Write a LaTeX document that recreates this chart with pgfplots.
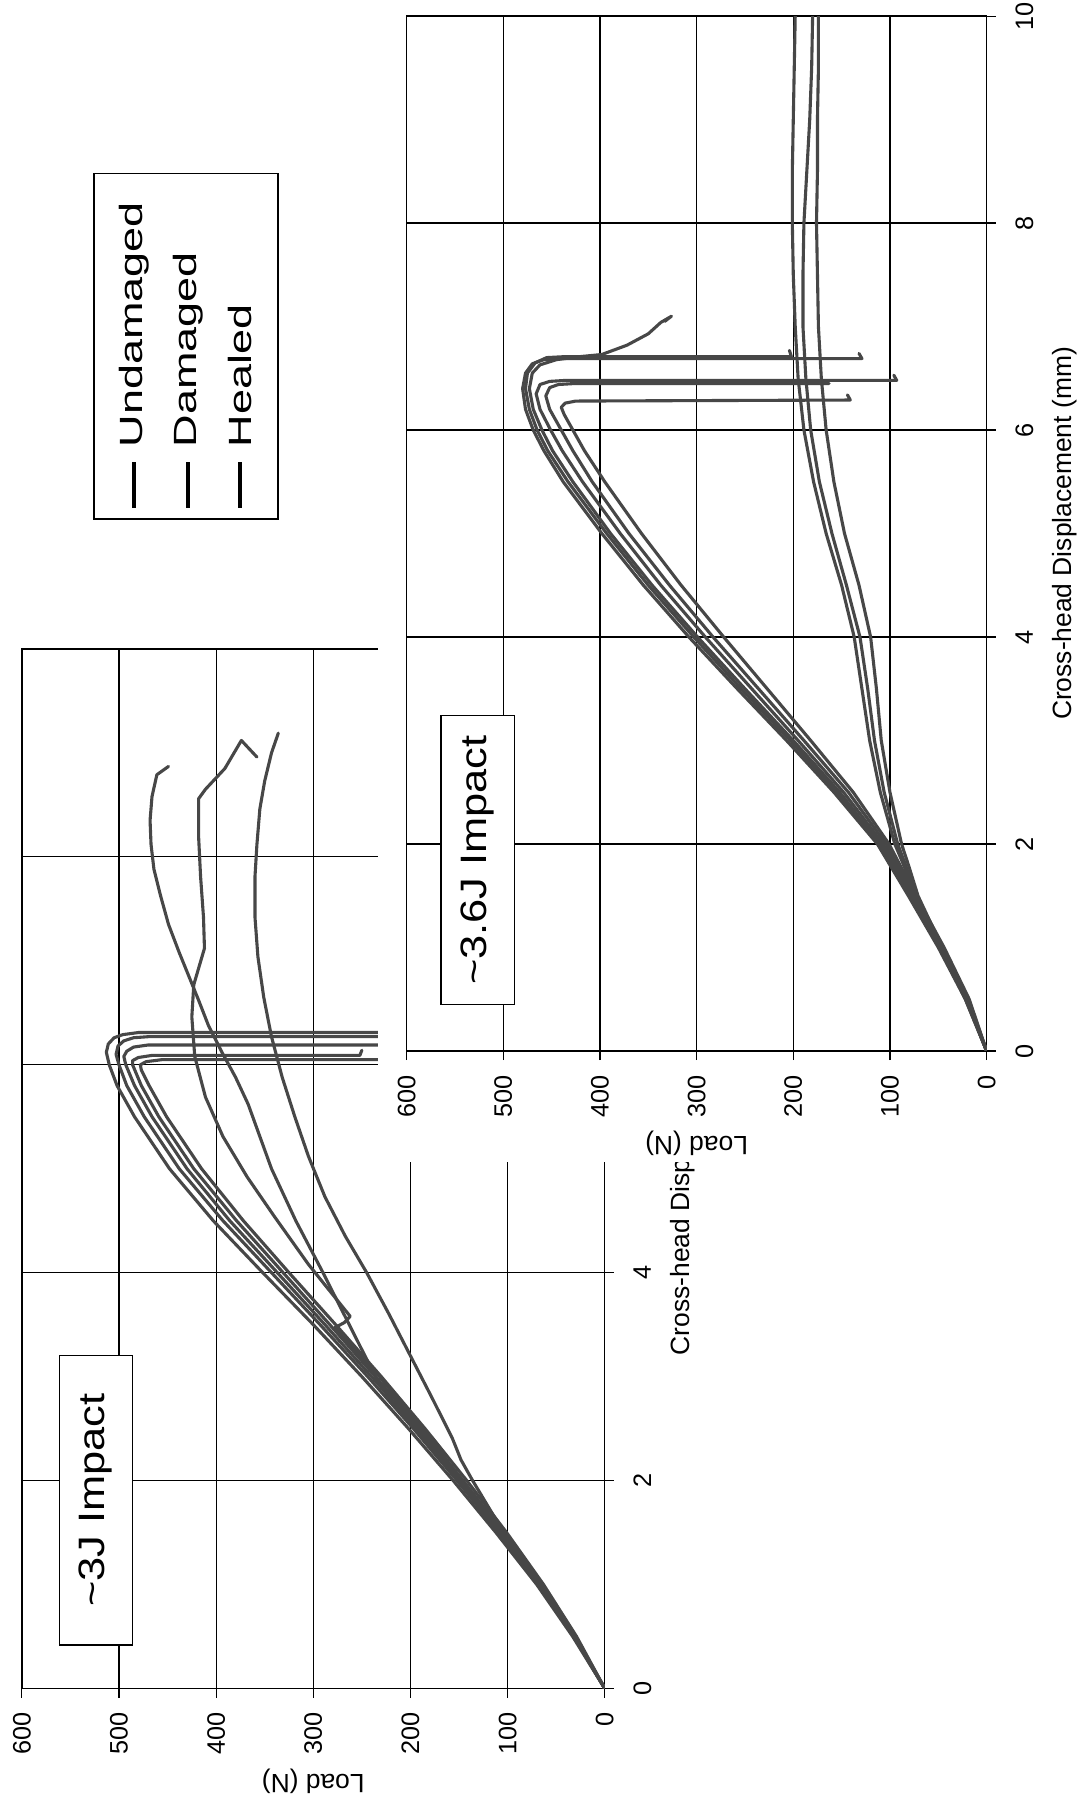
\documentclass[border=0pt]{standalone}
\usepackage{fontspec}
\setmainfont{Liberation Sans}
\usepackage{graphicx}
\usepackage{pgfplots}
\pgfplotsset{compat=1.18}

\pgfplotsset{
 loadaxis/.style={
   scale only axis, anchor=south west,
   x dir=reverse, xmin=0, xmax=600, ymin=0, ymax=10,
   xtick={0,100,...,600}, ytick={0,2,4,6,8,10},
   grid=major, major grid style={black, line width=0.5pt},
   axis line style={black, line width=0.6pt},
   tick align=outside, major tick length=4pt,
   tick style={black, line width=0.5pt},
   xtick pos=left, ytick pos=right, yticklabel pos=right,
   /pgf/number format/assume math mode=true,
   ticklabel style={font=\fontsize{11}{13}\selectfont},
   xticklabel style={rotate=90, anchor=east},
   yticklabel style={rotate=90, anchor=north},
   xticklabel shift=3pt, yticklabel shift=5pt,
   xlabel={Load (N)}, ylabel={Cross-head Displacement (mm)},
   label style={font=\fontsize{11.5}{13}\selectfont},
   xlabel style={at={(axis description cs:0.5,-0.0889)}, anchor=center, rotate=180},
   ylabel style={at={(axis description cs:1.134,0.5)}, anchor=center},
 },
}
\tikzset{
 curve/.style={draw=black!72, solid, line width=1.35pt, mark=none, line join=round, line cap=round},
 impactbox/.style={draw=black, fill=white, rotate=90, minimum width=126pt,
   minimum height=31.9pt, inner sep=0pt, line width=0.6pt,
   font=\fontsize{16}{18}\selectfont},
}

\begin{document}
\begin{tikzpicture}
\useasboundingbox (0,0) rectangle (471pt,-784pt);

% ---------------- ~3J chart ----------------
\begin{axis}[loadaxis, at={(9.5pt,-735pt)}, width=253.75pt, height=452.5pt]
% bundle curves
\addplot[curve] table[x=L,y=d] {
d L
0 0
0.5 33
1 70
1.5 112
2 156
2.5 202
3 250
3.5 300
4 352
4.5 403
5 448
5.5 484
5.8 502
6.0 510
6.12 513
6.2 511
6.26 505
6.29 496
6.31 480
6.31 0
};
\addplot[curve] table[x=L,y=d] {
d L
0 0
0.5 32
1 68
1.5 109
2 152
2.5 197
3 244
3.5 293
4 343
4.5 393
5 438
5.5 474
5.8 492
6.0 500
6.1 503
6.18 501
6.23 495
6.26 485
6.27 470
6.27 0
};
\addplot[curve] table[x=L,y=d] {
d L
0 0
0.5 31
1 66
1.5 106
2 149
2.5 193
3 240
3.5 288
4 337
4.5 386
5 430
5.5 466
5.8 484
6.0 493
6.08 495
6.13 492
6.17 485
6.19 470
6.19 0
};
\addplot[curve] table[x=L,y=d] {
d L
0 0
0.5 30
1 65
1.5 104
2 146
2.5 190
3 236
3.5 283
4 331
4.5 379
5 423
5.5 459
5.8 477
6.0 486
6.04 486
6.07 480
6.09 466
6.09 252
6.14 250
};
\addplot[curve] table[x=L,y=d] {
d L
0 0
0.5 29
1 63
1.5 101
2 142
2.5 185
3 230
3.5 277
4 325
4.5 372
5 415
5.5 451
5.8 469
5.95 477
6.0 478
6.03 472
6.05 455
6.05 0
};
% diverging curves
\addplot[curve] table[x=L,y=d] {
d L
0 0
0.5 32
1 67
1.5 104
2 136
2.2 148
2.41 157
2.8 178
3.2 200
3.6 222
4 245
4.35 267
4.73 288
5.12 305
5.5 319
5.88 332
6.27 343
6.65 351
7.04 357
7.42 360
7.81 360
8.12 358
8.46 355
8.73 350
9.0 343
9.19 336
};
\addplot[curve] table[x=L,y=d] {
d L
0 0
0.5 31
1 67
1.5 107
2 150
2.5 194
2.8 222
3.0 236
3.5 263
4.0 290
4.5 318
5.0 343
5.62 367
5.88 380
6.12 394
6.38 408
6.62 418
6.85 428
7.08 438
7.35 449
7.62 457
7.88 464
8.12 467
8.35 468
8.58 466
8.79 461
8.87 449
};
\addplot[curve] table[x=L,y=d] {
d L
0 0
0.5 31
1 66
1.5 105
2 146
2.5 188
3 232
3.47 278
3.52 268
3.58 262
4.08 305
4.54 340
4.92 368
5.31 393
5.69 411
6.08 422
6.46 425
6.77 423
7.12 412
7.42 413
7.81 416
8.19 418
8.56 418
8.65 411
8.85 391
9.12 374
8.96 358
};
\node[impactbox] at (axis cs:523.8,1.81) {\scalebox{1.18}[1]{\textasciitilde 3J Impact}};
\end{axis}

% ---------------- legend ----------------
\draw[line width=0.6pt, fill=white] (41pt,-75.5pt) rectangle (121pt,-226pt);
\foreach \xx/\txt in {58.5/Undamaged, 82/Damaged, 104.5/Healed}{
  \draw[black, line width=1.8pt] (\xx pt,-221pt) -- (\xx pt,-201pt);
  \node[rotate=90, anchor=west, inner sep=0pt, font=\fontsize{14}{16}\selectfont]
     at (\xx pt,-195pt) {\scalebox{1.4}[1]{\txt}};
}

% white panel behind the second chart
\fill[white] (164.5pt,0pt) rectangle (471pt,-506pt);

% ---------------- ~3.6J chart ----------------
\begin{axis}[loadaxis, at={(177pt,-457.5pt)}, width=252.5pt, height=450.5pt]
\addplot[curve] table[x=L,y=d] {
d L
0 0
0.5 22
1 50
1.5 81
2 113
2.5 158
3 207
3.5 258
4 308
4.5 355
5 398
5.5 438
5.8 458
6.0 469
6.2 477
6.4 480
6.55 477
6.64 470
6.68 458
6.69 440
6.69 129
6.74 132
};
\addplot[curve] table[x=L,y=d] {
d L
0 0
0.5 21
1 49
1.5 80
2 111
2.5 155
3 203
3.5 254
4 303
4.5 350
5 393
5.5 433
5.8 454
6.0 465
6.2 473
6.4 477
6.55 475
6.65 467
6.7 455
6.71 435
6.71 202
6.77 204
};
\addplot[curve] table[x=L,y=d] {
d L
0 0
0.5 21
1 48
1.5 79
2 110
2.5 152
3 200
3.5 250
4 299
4.5 346
5 389
5.5 428
5.8 449
6.0 460
6.2 469
6.4 473
6.55 470
6.63 462
6.68 445
6.71 420
6.73 398
6.82 372
6.93 350
7.04 337
7.1 326
7.05 333
};
\addplot[curve] table[x=L,y=d] {
d L
0 0
0.5 20
1 47
1.5 77
2 107
2.5 148
3 195
3.5 243
4 291
4.5 337
5 379
5.5 418
5.8 439
6.0 451
6.2 462
6.35 466
6.44 462
6.47 452
6.48 435
6.48 93
6.53 96
};
\addplot[curve] table[x=L,y=d] {
d L
0 0
0.5 19
1 46
1.5 75
2 104
2.5 143
3 189
3.5 236
4 283
4.5 328
5 370
5.5 408
5.8 428
6.0 440
6.2 452
6.33 456
6.41 452
6.44 443
6.45 425
6.45 163
};
\addplot[curve] table[x=L,y=d] {
d L
0 0
0.5 18
1 44
1.5 73
2 101
2.5 138
3 182
3.5 227
4 272
4.5 316
5 357
5.5 395
5.8 416
6.0 428
6.15 437
6.22 440
6.26 436
6.28 425
6.29 141
6.34 144
};
% low tails
\addplot[curve] table[x=L,y=d] {
d L
0 0
0.5 22
1 48
1.5 74
1.8 86
2 95
2.5 110
3 121
3.5 129
4 137
4.5 150
5 166
5.5 179
6 189
6.5 195
7 198
7.5 200
8 201
8.5 201
9 200
9.5 199
10 198
};
\addplot[curve] table[x=L,y=d] {
d L
0 0
0.5 21
1 47
1.5 73
1.8 84
2 92
2.5 106
3 116
3.5 123
4 131
4.5 145
5 160
5.5 173
6 182
6.5 187
7 190
7.5 190
8 189
8.5 186
9 183
9.5 181
10 180
};
\addplot[curve] table[x=L,y=d] {
d L
0 0
0.5 20
1 46
1.5 71
1.8 81
2 88
2.5 100
3 109
3.5 114
4 120
4.5 132
5 147
5.5 158
6 166
6.5 171
7 174
7.5 175
8 176
8.5 175
9 175
9.5 174
10 174
};
\node[impactbox] at (axis cs:526.6,1.845) {\scalebox{1.18}[1]{\textasciitilde 3.6J Impact}};
\end{axis}
\end{tikzpicture}
\end{document}
